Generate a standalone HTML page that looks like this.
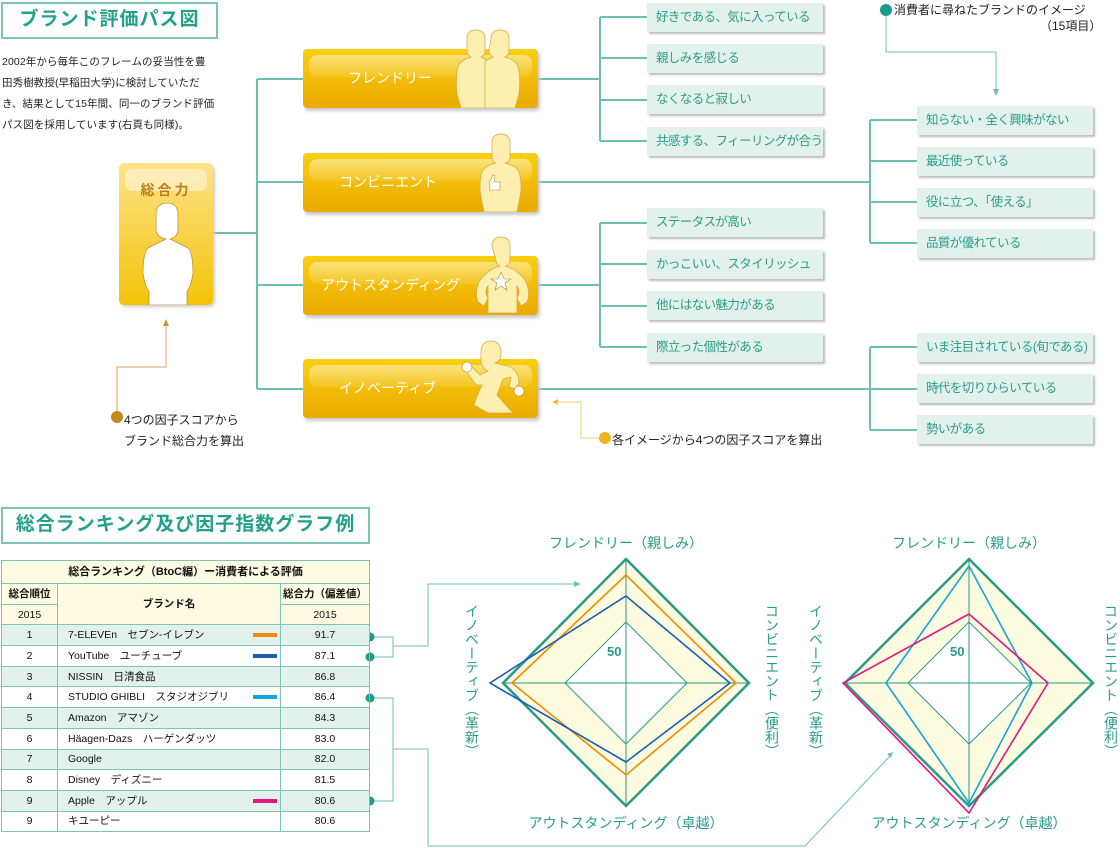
<!DOCTYPE html>
<html><head><meta charset="utf-8">
<style>
body{margin:0;width:1120px;height:848px;background:#fff;position:relative;overflow:hidden;font-family:"Liberation Sans","Noto Sans CJK JP",sans-serif;}
.a{position:absolute;}
.ttl{position:absolute;border:2px solid #7cc4b6;color:#23a08c;font-weight:bold;font-size:19px;text-align:center;box-sizing:border-box;line-height:32px;letter-spacing:1px;}
.item{position:absolute;background:#e2f1eb;color:#2a9d8a;font-size:12.5px;letter-spacing:-0.6px;white-space:nowrap;overflow:hidden;line-height:29px;height:29px;padding-left:9px;box-sizing:border-box;box-shadow:2px 2px 2px #b9bdbb;}
.bar{position:absolute;left:303px;width:235px;height:59px;border-radius:4px;background:linear-gradient(#f9cf10,#ebaa00);box-shadow:2px 3px 3px #c9c9c9;color:#fff;font-size:14px;}
.bar .hl{position:absolute;left:6px;right:6px;top:6px;height:22px;border-radius:8px;background:linear-gradient(rgba(255,255,255,.45),rgba(255,255,255,.1));}
.bar .t{position:absolute;top:0;line-height:59px;}
table{border-collapse:collapse;position:absolute;left:1px;top:560px;width:369px;font-size:10.5px;color:#111;}
td{border:1px solid #7cc4b6;padding:0;height:19.7px;vertical-align:middle;line-height:12px;}
td.n{padding-left:10px;position:relative;white-space:nowrap;}
tr.g td{background:#e2f1eb;}
.cb{position:absolute;left:195px;top:8px;width:24px;height:4px;display:block;}
.vt{position:absolute;writing-mode:vertical-rl;color:#2a9d8a;font-size:14px;}
.lab{position:absolute;color:#2a9d8a;font-size:14px;transform:translateX(-50%);white-space:nowrap;}
</style></head><body>
<div class="ttl" style="left:1px;top:2px;width:217px;height:37px;">ブランド評価パス図</div>
<div class="a" style="left:2px;top:52px;font-size:10.5px;line-height:21px;color:#222;white-space:nowrap;letter-spacing:0.1px;">2002年から毎年このフレームの妥当性を豊<br>田秀樹教授(早稲田大学)に検討していただ<br>き、結果として15年間、同一のブランド評価<br>パス図を採用しています(右頁も同様)。</div>

<svg class="a" style="left:0;top:0" width="1120" height="848">
<g stroke="#6cc0b2" stroke-width="2" fill="none">
<path d="M213 233H257M257 79V389M257 79H303M257 182H303M257 285H303M257 389H303"/>
<path d="M538 79H600M600 17V141M600 17H647M600 58H647M600 100H647M600 141H647"/>
<path d="M538 285H600M600 223V347M600 223H647M600 264H647M600 306H647M600 347H647"/>
<path d="M538 182H870M870 120V243M870 120H917M870 161H917M870 202H917M870 243H917"/>
<path d="M538 389H917M870 347V430M870 347H917M870 430H917"/>
</g>
<g stroke="#6cc0b2" stroke-width="1" fill="none">
<path d="M886 10V52H996V92"/>
<path d="M370 637H393V657H370M393 646H428V584H576"/>
<path d="M370 698H393V801H370M393 749H428V846H805L890 756"/>
</g>
<path d="M996 96l-3-7h6z" fill="#6cc0b2"/>
<path d="M581 584l-7-3v6z" fill="#6cc0b2"/>
<path d="M893 752l-6 2 4 4z" fill="#6cc0b2"/>
<circle cx="886" cy="10" r="6" fill="#1f9a88"/>
<circle cx="370" cy="637" r="4.5" fill="#1f9a88"/><circle cx="370" cy="657" r="4.5" fill="#1f9a88"/>
<circle cx="370" cy="698" r="4.5" fill="#1f9a88"/><circle cx="370" cy="801" r="4.5" fill="#1f9a88"/>
<path d="M604 438H581V402H556" stroke="#f3d16a" stroke-width="1" fill="none"/><path d="M552 402l6-3v6z" fill="#f0c030"/>
<circle cx="605" cy="438" r="6" fill="#ebb423"/>
<path d="M117 417V367H166V324" stroke="#d6a55a" stroke-width="1" fill="none"/><path d="M166 319l-3 7h6z" fill="#c99540"/>
<circle cx="117" cy="417" r="6" fill="#c08a1c"/>
</svg>

<div class="a" style="left:894px;top:1px;font-size:12px;color:#222;">消費者に尋ねたブランドのイメージ</div>
<div class="a" style="left:1040px;top:17px;font-size:12px;color:#222;">（15項目）</div>
<div class="a" style="left:612px;top:431px;font-size:12px;color:#222;">各イメージから4つの因子スコアを算出</div>
<div class="a" style="left:124px;top:410px;font-size:12px;color:#222;line-height:21px;">4つの因子スコアから<br>ブランド総合力を算出</div>

<div class="a" style="left:119px;top:163px;width:94px;height:142px;border-radius:5px;background:linear-gradient(#fde38a,#f3c308);box-shadow:2px 2px 3px #ccc;overflow:hidden;">
<div class="a" style="left:6px;top:6px;width:82px;height:22px;border-radius:7px;background:rgba(255,255,255,.45)"></div>
<div class="a" style="left:0;width:94px;top:17px;text-align:center;color:#c07d14;font-weight:bold;font-size:14px;letter-spacing:3px;">総合力</div>
<svg class="a" style="left:0;top:0" width="94" height="142"><path d="M37 52q0-12 11-12t11 12v14q0 8-8 10l18 9q5 5 5 25q-2 14-6 18v14H30v-14q-4-4-6-18q0-20 5-25l18-9q-10-2-10-10z" fill="#fff" stroke="#c99230" stroke-width=".8"/></svg>
</div>

<div class="bar" style="top:49px;"><div class="hl"></div><div class="t" style="left:45px;">フレンドリー</div>
<svg class="a" style="left:150px;top:-20px" width="70" height="79"><g fill="#fdefb0" stroke="#d6a53a" stroke-width=".7"><path d="M14 10q0-9 9-9t9 9v12q0 4-4 6l8 4v47H8l-4-14q-2-20 2-30q4-5 12-7q-4-2-4-6z"/><path d="M38 10q0-9 9-9t9 9v12q0 4-4 6q8 2 12 7q4 10 2 30l-4 14H32V32l8-4q-4-2-4-6z"/></g></svg></div>
<div class="bar" style="top:153px;"><div class="hl"></div><div class="t" style="left:36px;">コンビニエント</div>
<svg class="a" style="left:172px;top:-20px" width="50" height="79"><path d="M17 10q0-9 9-9t9 9v14q0 5-5 6q12 3 14 9q4 14 0 30l-2 10H9l-2-10q-4-16 0-30q2-6 14-9q-4-1-4-6z" fill="#fdefb0" stroke="#d6a53a" stroke-width=".7"/><path d="M14 50l4-8 2 1-1 6h6v8h-10z" fill="#fff" stroke="#b58a30" stroke-width=".6"/></svg></div>
<div class="bar" style="top:256px;"><div class="hl"></div><div class="t" style="left:18px;">アウトスタンディング</div>
<svg class="a" style="left:160px;top:-20px" width="75" height="79"><path d="M29 10q0-9 9-9t9 9v14q0 5-5 6q12 3 20 14q6 12 2 22l-6 4-4-8q4-6 0-12v27H25V50q-4 6 0 12l-4 8-6-4q-4-10 2-22q8-11 20-14q-4-1-4-6z" fill="#fdefb0" stroke="#d6a53a" stroke-width=".7"/><path d="M38 36l3 7h7l-6 4 2 7-6-4-6 4 2-7-6-4h7z" fill="#fff" stroke="#b58a30" stroke-width=".6"/></svg></div>
<div class="bar" style="top:359px;"><div class="hl"></div><div class="t" style="left:36px;">イノベーティブ</div>
<svg class="a" style="left:145px;top:-20px" width="90" height="79"><path d="M33 14q0-12 10-12t10 12q0 8-6 10l16 4q8 6 8 16l-4 6-6-2 2-10-8 2-6 16 16 18H40L26 66q4-12 8-20l-6 0-10-14 6-4 8 8 8-4q-6-2-7-10z" fill="#fdefb0" stroke="#d6a53a" stroke-width=".7"/><circle cx="19" cy="28" r="5" fill="#fff" stroke="#b58a30" stroke-width=".6"/><circle cx="71" cy="52" r="5" fill="#fff" stroke="#b58a30" stroke-width=".6"/></svg></div>

<div class="item" style="left:647px;top:3px;width:176px;">好きである、気に入っている</div>
<div class="item" style="left:647px;top:44px;width:176px;">親しみを感じる</div>
<div class="item" style="left:647px;top:85px;width:176px;">なくなると寂しい</div>
<div class="item" style="left:647px;top:127px;width:176px;">共感する、フィーリングが合う</div>
<div class="item" style="left:647px;top:208px;width:176px;">ステータスが高い</div>
<div class="item" style="left:647px;top:250px;width:176px;">かっこいい、スタイリッシュ</div>
<div class="item" style="left:647px;top:291px;width:176px;">他にはない魅力がある</div>
<div class="item" style="left:647px;top:333px;width:176px;">際立った個性がある</div>
<div class="item" style="left:917px;top:106px;width:176px;">知らない・全く興味がない</div>
<div class="item" style="left:917px;top:147px;width:176px;">最近使っている</div>
<div class="item" style="left:917px;top:188px;width:176px;">役に立つ、「使える」</div>
<div class="item" style="left:917px;top:229px;width:176px;">品質が優れている</div>
<div class="item" style="left:917px;top:333px;width:176px;">いま注目されている(旬である)</div>
<div class="item" style="left:917px;top:374px;width:176px;">時代を切りひらいている</div>
<div class="item" style="left:917px;top:415px;width:176px;">勢いがある</div>

<div class="ttl" style="left:1px;top:507px;width:369px;height:37px;font-size:19px;">総合ランキング及び因子指数グラフ例</div>

<table>
<tr><td colspan="3" style="background:#fefbe2;text-align:center;font-weight:bold;font-size:11px;height:22px;">総合ランキング（BtoC編）ー消費者による評価</td></tr>
<tr style="background:#fefbe2"><td style="width:55px;text-align:center;font-weight:bold;">総合順位</td><td rowspan="2" style="text-align:center;font-weight:bold;">ブランド名</td><td style="width:88px;text-align:center;font-weight:bold;">総合力（偏差値）</td></tr>
<tr style="background:#fefbe2"><td style="text-align:center;">2015</td><td style="text-align:center;">2015</td></tr>
<tr class="g"><td align="center">1</td><td class="n">7-ELEVEn　セブン-イレブン<span class="cb" style="background:#f08a00"></span></td><td align="center">91.7</td></tr>
<tr><td align="center">2</td><td class="n">YouTube　ユーチューブ<span class="cb" style="background:#1a5fb4"></span></td><td align="center">87.1</td></tr>
<tr class="g"><td align="center">3</td><td class="n">NISSIN　日清食品</td><td align="center">86.8</td></tr>
<tr><td align="center">4</td><td class="n">STUDIO GHIBLI　スタジオジブリ<span class="cb" style="background:#16a3e0"></span></td><td align="center">86.4</td></tr>
<tr class="g"><td align="center">5</td><td class="n">Amazon　アマゾン</td><td align="center">84.3</td></tr>
<tr><td align="center">6</td><td class="n">Häagen-Dazs　ハーゲンダッツ</td><td align="center">83.0</td></tr>
<tr class="g"><td align="center">7</td><td class="n">Google</td><td align="center">82.0</td></tr>
<tr><td align="center">8</td><td class="n">Disney　ディズニー</td><td align="center">81.5</td></tr>
<tr class="g"><td align="center">9</td><td class="n">Apple　アップル<span class="cb" style="background:#e4157e"></span></td><td align="center">80.6</td></tr>
<tr><td align="center">9</td><td class="n">キユーピー</td><td align="center">80.6</td></tr>
</table>

<svg class="a" style="left:0;top:0" width="1120" height="848">
<g>
<path d="M626 559L749 683L626 806L503 683Z" fill="#fdfbe0" stroke="#2a9a86" stroke-width="2.5"/>
<path d="M626 622L687 683L626 744L565 683Z" fill="#fff" stroke="#2a9a86" stroke-width="1"/>
<path d="M626 559V806M503 683H749" stroke="#2a9a86" stroke-width="1"/>
<path d="M626 575L736 683L626 775L512 683Z" fill="none" stroke="#f08a00" stroke-width="1.6"/>
<path d="M626 596L730 683L626 762L490 683Z" fill="none" stroke="#1a5fb4" stroke-width="1.6"/>
</g>
<g>
<path d="M969 559L1093 683L969 806L845 683Z" fill="#fdfbe0" stroke="#2a9a86" stroke-width="2.5"/>
<path d="M969 622L1031 683L969 744L908 683Z" fill="#fff" stroke="#2a9a86" stroke-width="1"/>
<path d="M969 559V806M845 683H1093" stroke="#2a9a86" stroke-width="1"/>
<path d="M969 566L1032 683L969 803L886 683Z" fill="none" stroke="#16a3e0" stroke-width="1.6"/>
<path d="M969 614L1048 683L969 813L843 683Z" fill="none" stroke="#e4157e" stroke-width="1.6"/>
</g>
<text x="607" y="656" font-size="13" fill="#2a9a86" font-weight="bold" font-family="Liberation Sans">50</text>
<text x="950" y="656" font-size="13" fill="#2a9a86" font-weight="bold" font-family="Liberation Sans">50</text>
</svg>
<div class="lab" style="left:626px;top:533px;">フレンドリー（親しみ）</div>
<div class="lab" style="left:969px;top:533px;">フレンドリー（親しみ）</div>
<div class="lab" style="left:626px;top:813px;">アウトスタンディング（卓越）</div>
<div class="lab" style="left:969px;top:813px;">アウトスタンディング（卓越）</div>
<div class="vt" style="left:462px;top:604px;">イノベーティブ（革新）</div>
<div class="vt" style="left:762px;top:604px;">コンビニエント（便利）</div>
<div class="vt" style="left:806px;top:604px;">イノベーティブ（革新）</div>
<div class="vt" style="left:1101px;top:604px;">コンビニエント（便利）</div>
</body></html>
